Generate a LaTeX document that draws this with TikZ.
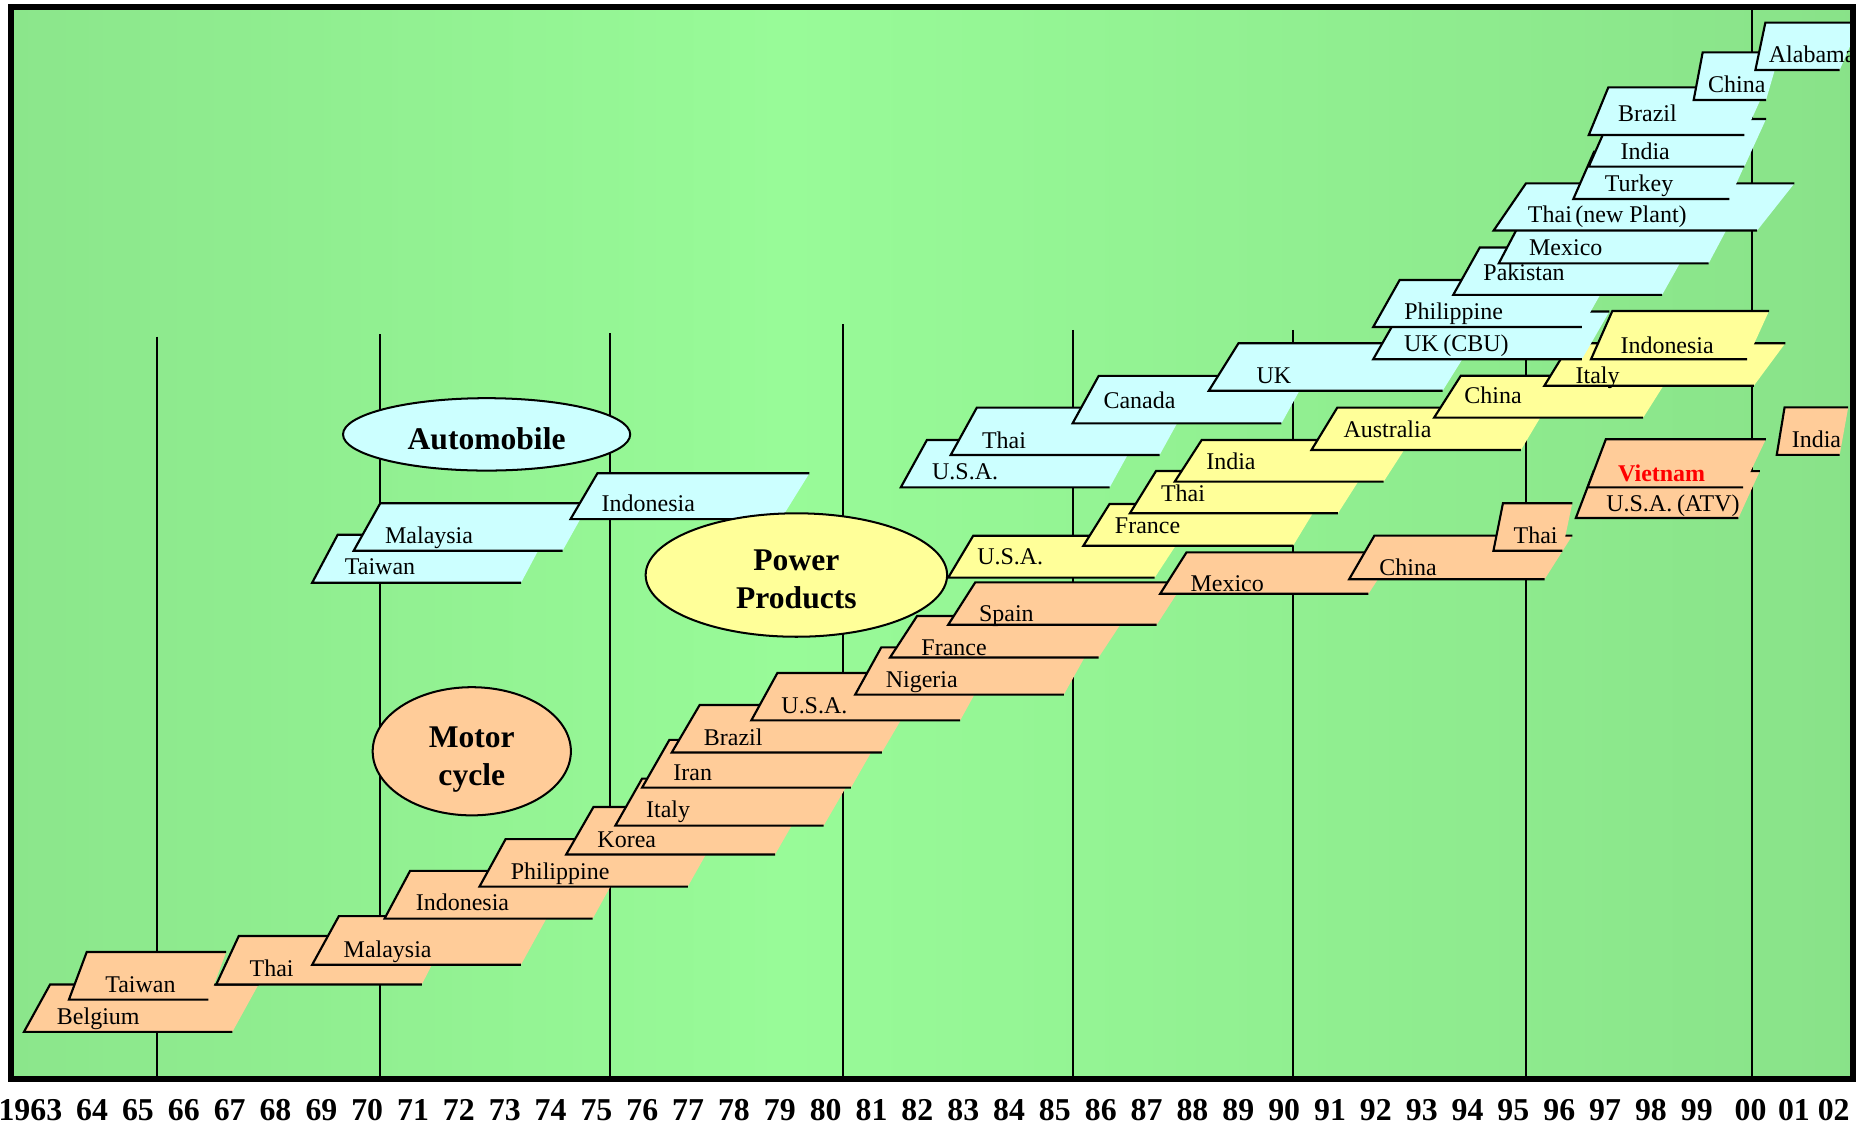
\documentclass[tikz,border=0pt]{standalone}
\usepackage{fontspec}
\setmainfont{Liberation Serif}
\definecolor{bgdark}{RGB}{124,205,124}
\definecolor{bglight}{RGB}{152,251,152}
\definecolor{colMoto}{RGB}{255,204,153}
\definecolor{colAuto}{RGB}{204,255,255}
\definecolor{colPower}{RGB}{255,255,153}
\pgfdeclarehorizontalshading{bgshade}{100bp}{color(0bp)=(bgdark); color(46bp)=(bglight); color(100bp)=(bgdark)}
\tikzset{
  boxline/.style={line width=0.9pt, line join=miter},
  vline/.style={line width=0.85pt},
  lbl/.style={font=\fontsize{10.1}{12}\selectfont, inner sep=0pt, anchor=base west},
  etxt/.style={font=\bfseries\fontsize{13.3}{16}\selectfont, inner sep=0pt, anchor=base},
  ytxt/.style={font=\bfseries\fontsize{13.4}{16}\selectfont, inner sep=0pt, anchor=base},
  ell/.style={line width=0.85pt}
}
% #1 fill, #2 x bottom-left, #3 y bottom, #4 y top, #5 slant, #6 bottom width, #7 top width
\newcommand\slbox[7]{%
  \fill[#1] (#2,#3) -- ({#2+#5},#4) -- ({#2+#5+#7},#4) -- ({#2+#6},#3) -- cycle;
  \draw[boxline] ({#2+#6},#3) -- (#2,#3) -- ({#2+#5},#4) -- ({#2+#5+#7},#4);
}
\begin{document}
\begin{tikzpicture}[x=0.5pt,y=-0.5pt]
\useasboundingbox (0,0) rectangle (1568,950.4);
\shade[shading=bgshade] (9,6) rectangle (1561.4,908.8);
\begin{scope}
\clip (9,6) rectangle (1561.4,908.8);
% year grid lines
\draw[vline] (131.9,283.6) -- (131.9,908.8);
\draw[vline] (320.5,281.7) -- (320.5,908.8);
\draw[vline] (514.2,280.8) -- (514.2,908.8);
\draw[vline] (710.5,273) -- (710.5,908.8);
\draw[vline] (903.7,278) -- (903.7,908.8);
\draw[vline] (1089.8,278) -- (1089.8,908.8);
\draw[vline] (1285.6,280) -- (1285.6,908.8);
\draw[vline] (1476.5,6) -- (1476.5,908.8);
% ---------- Motor cycle ----------
\slbox{colMoto}{20.2}{869.4}{829.5}{22}{175.6}{175.6}
\node[lbl] (mBelgium) at (47.6,862.9) {Belgium};
\slbox{colMoto}{58.1}{842.2}{802.1}{15}{117.5}{117.5}
\node[lbl] (mTaiwan) at (88.3,836) {Taiwan};
\slbox{colMoto}{182.2}{829.5}{788.6}{19}{173.2}{175}
\node[lbl] (mThai) at (210,822.5) {Thai};
\slbox{colMoto}{263}{812.9}{771.9}{22.5}{175.9}{176}
\node[lbl] (mMalaysia) at (289.2,806.9) {Malaysia};
\slbox{colMoto}{324}{774}{733.8}{21.5}{175.4}{176}
\node[lbl] (mIndonesia) at (350,767) {Indonesia};
\slbox{colMoto}{404}{747}{707}{22}{175.5}{176}
\node[lbl] (mPhilippine) at (430,741) {Philippine};
\slbox{colMoto}{477}{720}{680}{23}{176}{176}
\node[lbl] (mKorea) at (503,714) {Korea};
\slbox{colMoto}{518.5}{695.6}{656}{22.5}{175.5}{176}
\node[lbl] (mItaly) at (544,689) {Italy};
\slbox{colMoto}{541}{663.6}{623.4}{23}{176}{176}
\node[lbl] (mIran) at (567,657.7) {Iran};
\slbox{colMoto}{566}{634}{594}{23.5}{177}{177}
\node[lbl] (mBrazil) at (592.7,628) {Brazil};
\slbox{colMoto}{633}{607}{567}{22}{176}{176}
\node[lbl] (mUSA) at (658,601) {U.S.A.};
\slbox{colMoto}{720.5}{585.3}{545.5}{22}{175.8}{176}
\node[lbl] (mNigeria) at (746,579.5) {Nigeria};
\slbox{colMoto}{749.9}{554}{519}{22.8}{175.7}{176}
\node[lbl] (mFrance) at (776,552) {France};
\slbox{colMoto}{798.9}{526.4}{490.7}{22.8}{175.7}{176}
\node[lbl] (mSpain) at (824.5,523.8) {Spain};
\slbox{colMoto}{977.5}{500.3}{465.4}{22.2}{175.5}{176}
\node[lbl] (mMexico) at (1002.7,498.5) {Mexico};
\slbox{colMoto}{1136.7}{488.1}{451.3}{21.3}{164.7}{166.7}
\node[lbl] (mChina) at (1161.8,484.7) {China};
\slbox{colMoto}{1258.3}{464}{424}{8}{58}{58.4}
\node[lbl] (mThaiB) at (1274.9,457.8) {Thai};
\slbox{colMoto}{1327.7}{436.5}{397}{15}{137}{140}
\node[lbl] (mUSAATV) at (1353,431) {U.S.A.\kern2pt(ATV)};
\slbox{colMoto}{1337.7}{410.6}{370.1}{15.3}{130.9}{134.8}
\node[lbl, font=\bfseries\fontsize{10.1}{12}\selectfont, text=red] (mVietnam) at (1363,405.8) {Vietnam};
\slbox{colMoto}{1497}{383.3}{343.2}{6.6}{53}{53.6}
\node[lbl] (mIndia) at (1509.3,377) {India};
% ---------- Power products (lower part) ----------
\slbox{colPower}{798.9}{486.7}{451.4}{21.1}{174}{176}
\node[lbl] (pUSA) at (823,475.5) {U.S.A.};
\slbox{colPower}{912.8}{459.8}{424.7}{22}{176.7}{176}
\node[lbl] (pFrance) at (939,449.4) {France};
\slbox{colPower}{952}{432.5}{396.9}{22}{175.3}{176}
\node[lbl] (pThai) at (977.8,422.7) {Thai};
\slbox{colPower}{989.8}{405.8}{370.7}{22.7}{176}{176}
\node[lbl] (pIndia) at (1016,396) {India};
\slbox{colPower}{1105}{379.1}{343.5}{21.7}{176.5}{176}
\node[lbl] (pAustralia) at (1131.6,368.4) {Australia};
\slbox{colPower}{1208.3}{351.9}{316.6}{22.5}{176.2}{176}
\node[lbl] (pChina) at (1233.5,340) {China};
\slbox{colPower}{1301.2}{325}{289.2}{22}{176.5}{181}
\node[lbl] (pItaly) at (1327.2,323.2) {Italy};
% ---------- Automobile ----------
\slbox{colAuto}{263}{491}{450.6}{21.5}{176}{176}
\node[lbl] (aTaiwan) at (290.2,484.3) {Taiwan};
\slbox{colAuto}{298}{464}{424}{22.4}{176}{176}
\node[lbl] (aMalaysia) at (324.1,457.6) {Malaysia};
\slbox{colAuto}{480.7}{437.4}{398.7}{22.7}{177.3}{178.6}
\node[lbl] (aIndonesia) at (506.6,431) {Indonesia};
\slbox{colAuto}{759}{410.6}{370.7}{22}{176}{176}
\node[lbl] (aUSA) at (785,404.4) {U.S.A.};
\slbox{colAuto}{801}{383.4}{343.5}{22}{176}{176}
\node[lbl] (aThai) at (827,377.8) {Thai};
\slbox{colAuto}{903.7}{356.7}{316.7}{22}{176}{176}
\node[lbl] (aCanada) at (929.4,344.6) {Canada};
\slbox{colAuto}{1018.5}{329.2}{289.2}{25}{197}{197}
\node[lbl] (aUK) at (1058.3,323) {UK};
\slbox{colAuto}{1157}{302.7}{262.5}{23}{175.8}{176}
\node[lbl] (aUKCBU) at (1182.6,296.3) {UK\kern2pt(CBU)};
\slbox{colAuto}{1157}{275.5}{235.9}{22.3}{175.8}{176}
\node[lbl] (aPhilippine) at (1182.8,269.5) {Philippine};
\slbox{colAuto}{1224.4}{248.5}{208.5}{22.4}{176}{176}
\node[lbl] (aPakistan) at (1249.5,236) {Pakistan};
\slbox{colAuto}{1262.8}{221.9}{182}{21}{176.8}{177}
\node[lbl] (aMexico) at (1288,215.7) {Mexico};
\slbox{colAuto}{1258.5}{194.2}{154.5}{27.2}{222}{226.2}
\node[lbl] (aThaiNew) at (1287,187.6) {Thai\kern1.5pt(new Plant)};
\slbox{colAuto}{1325.6}{167.7}{127.8}{17.5}{131.4}{132}
\node[lbl] (aTurkey) at (1351.8,161.5) {Turkey};
\slbox{colAuto}{1338.6}{140.4}{100.3}{17.7}{131.1}{131.7}
\node[lbl] (aIndia) at (1365,134.3) {India};
\slbox{colAuto}{1338.6}{113.8}{73.6}{16.5}{131.1}{132.9}
\node[lbl] (aBrazil) at (1363,102.5) {Brazil};
\slbox{colAuto}{1427}{84.3}{44.1}{7.6}{61}{65}
\node[lbl] (aChina) at (1438.8,78.1) {China};
\slbox{colAuto}{1479}{59}{19.1}{8.4}{71}{80}
\node[lbl] (aAlabama) at (1490,52.8) {Alabama};
% ---------- Power products (top) ----------
\slbox{colPower}{1340.5}{302.7}{262}{18}{131.5}{132}
\node[lbl] (pIndonesia) at (1365,297.6) {Indonesia};
% ---------- category ellipses ----------
\filldraw[ell, fill=colAuto] (410,366) ellipse [x radius=121, y radius=30.5];
\node[etxt] (autoLbl) at (410,378.4) {Automobile};
\filldraw[ell, fill=colPower] (671,484.5) ellipse [x radius=127, y radius=52];
\node[etxt] (powerLblA) at (671,480.7) {Power};
\node[etxt] (powerLblB) at (671,512.4) {Products};
\filldraw[ell, fill=colMoto] (397.5,633) ellipse [x radius=83.5, y radius=54];
\node[etxt] (motoLblA) at (397.5,629.6) {Motor};
\node[etxt] (motoLblB) at (397.5,662) {cycle};
\end{scope}
\draw[line width=2.5pt] (9,6) rectangle (1561.4,908.8);
% ---------- year axis ----------
\node[ytxt] (yr1963) at (25.6,944) {1963};
\foreach \lab/\xc in {64/77.6,65/116.2,66/154.9,67/193.5,68/232.1,69/270.8,70/309.4,71/348.0,72/386.6,73/425.3,74/463.9,75/502.5,76/541.2,77/579.8,78/618.4,79/657.1,80/695.7,81/734.3,82/772.9,83/811.6,84/850.2,85/888.8,86/927.5,87/966.1,88/1004.7,89/1043.4,90/1082.0,91/1120.6,92/1159.2,93/1197.9,94/1236.5,95/1275.1,96/1313.8,97/1352.4,98/1391.0,99/1429.7,00/1475,01/1511.5,02/1545}
  \node[ytxt] (yr\lab) at (\xc,944) {\lab};
\end{tikzpicture}
\end{document}
